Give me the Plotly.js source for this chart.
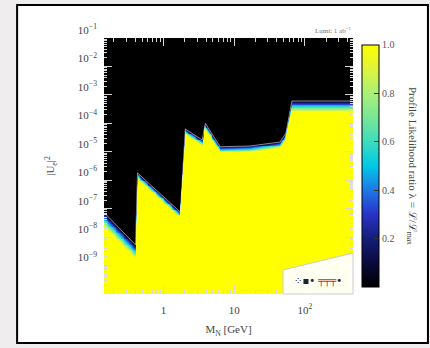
<!DOCTYPE html>
<html><head><meta charset="utf-8">
<script src="https://cdn.plot.ly/plotly-3.0.1.min.js"></script>
<style>html,body{margin:0;padding:0;background:#efeded}</style></head>
<body><div id="chart" style="width:430px;height:348px"></div>
<script>
// Sensitivity boundary (mass in GeV, |U|^2 at which lambda -> 0)
const boundaryMass = [0.1476, 0.4036, 0.4305, 1.734, 2.042, 3.54, 3.91, 6.35, 16.8, 44.5, 54.0, 65.6, 474];
const boundaryU2   = [7.0e-8, 5.3e-9, 1.8e-6, 7.6e-8, 6.3e-5, 2.6e-5, 1.0e-4, 1.5e-5, 1.6e-5, 2.2e-5, 4.6e-5, 6.1e-4, 6.1e-4];
// depth (in decades of |U|^2) of the colour transition below the boundary, per segment
const bandWidth    = [0.50, 0.50, 0.22, 0.22, 0.20, 0.20, 0.22, 0.22, 0.22, 0.22, 0.22, 0.38, 0.38];

const yTickVals = [1e-1,1e-2,1e-3,1e-4,1e-5,1e-6,1e-7,1e-8,1e-9];
const yTickText = ['10<sup>−1</sup>','10<sup>−2</sup>','10<sup>−3</sup>','10<sup>−4</sup>','10<sup>−5</sup>','10<sup>−6</sup>','10<sup>−7</sup>','10<sup>−8</sup>','10<sup>−9</sup>'];
const xTickVals = [1, 10, 100];
const xTickText = ['1', '10', '10<sup>2</sup>'];
const cbTickVals = [0.2, 0.4, 0.6, 0.8, 1.0];
const cbTickText = ['0.2', '0.4', '0.6', '0.8', '1.0'];

// minor tick positions (axis styling)
const xMinor = [], yMinor = [];
[0.1, 1, 10, 100].forEach(d => { for (let m = 2; m <= 9; m++) xMinor.push(m * d); });
for (let e = -10; e < -1; e++) for (let m = 2; m <= 9; m++) yMinor.push(m * Math.pow(10, e));

// build heatmap grid from the boundary table
const lmB = boundaryMass.map(Math.log10), luB = boundaryU2.map(Math.log10);
const NX = 280, NY = 300;
const lxMin = -0.84, lxMax = 2.68, lyMin = -10, lyMax = -1;
const xs = [], ys = [], z = [];
for (let i = 0; i < NX; i++) xs.push(Math.pow(10, lxMin + (lxMax - lxMin) * (i + 0.5) / NX));
for (let j = 0; j < NY; j++) ys.push(Math.pow(10, lyMin + (lyMax - lyMin) * (j + 0.5) / NY));
function bnd(lx) {
  let k = 0;
  while (k < lmB.length - 2 && lx > lmB[k + 1]) k++;
  const t = Math.max(0, Math.min(1, (lx - lmB[k]) / (lmB[k + 1] - lmB[k])));
  return [luB[k] + t * (luB[k + 1] - luB[k]), bandWidth[k]];
}
const cols = xs.map(x => bnd(Math.log10(x)));
for (let j = 0; j < NY; j++) {
  const row = [];
  const ly = Math.log10(ys[j]);
  for (let i = 0; i < NX; i++) {
    const d = cols[i][0] - ly;
    row.push(d <= 0 ? 0 : Math.min(1, Math.pow(d / cols[i][1], 0.9)));
  }
  z.push(row);
}

const cscale = [[0,'#000000'],[0.1,'#0a0a3c'],[0.2,'#141e78'],[0.3,'#2832c8'],[0.4,'#1e78e6'],
  [0.5,'#00c8e6'],[0.6,'#3cdcbe'],[0.7,'#78e696'],[0.8,'#aaf078'],[0.9,'#dcf53c'],[1,'#ffff00']];

const sf = 'Liberation Serif, serif';
const trace = {
  type: 'heatmap', x: xs, y: ys, z: z, zmin: 0, zmax: 1, colorscale: cscale, zsmooth: false,
  hoverinfo: 'skip',
  colorbar: {
    thickness: 17, thicknessmode: 'pixels', len: 0.945, lenmode: 'fraction',
    x: 1.036, xanchor: 'left', y: 0.973, yanchor: 'top',
    outlinecolor: '#000', outlinewidth: 1,
    tickvals: cbTickVals, ticktext: cbTickText, ticks: 'inside', ticklen: 5, tickcolor: '#333',
    tickfont: {family: sf, size: 10, color: '#555'}, xpad: 0, ypad: 0
  }
};
const edge = {
  type: 'scatter', mode: 'lines', x: boundaryMass, y: boundaryU2,
  line: {color: 'rgba(220,220,235,0.6)', width: 1}, hoverinfo: 'skip'
};

const layout = {
  width: 430, height: 348,
  margin: {l: 104, r: 77, t: 38, b: 54},
  paper_bgcolor: '#efeded', plot_bgcolor: '#000',
  font: {family: sf, size: 11, color: '#444'}, showlegend: false,
  xaxis: {
    type: 'log', range: [lxMin, lxMax], tickvals: xTickVals, ticktext: xTickText,
    ticks: 'inside', ticklen: 8, tickcolor: '#d8d8d8', mirror: 'ticks', showgrid: false, zeroline: false,
    showline: false, ticklabelstandoff: 8,
    minor: {tickvals: xMinor, ticks: 'inside', ticklen: 4, tickcolor: '#d8d8d8', showgrid: false},
    title: {text: 'M<sub>N</sub> [GeV]', font: {family: sf, size: 11, color: '#444'}, standoff: 10}
  },
  yaxis: {
    type: 'log', range: [lyMin, lyMax], tickvals: yTickVals, ticktext: yTickText,
    ticks: 'inside', ticklen: 8, tickcolor: '#d8d8d8', mirror: 'ticks', showgrid: false, zeroline: false,
    showline: false, ticklabelshift: -8, ticklabelstandoff: 6,
    minor: {tickvals: yMinor, ticks: 'inside', ticklen: 3, tickcolor: '#d8d8d8', showgrid: false},
    title: {text: '|U<sub>e</sub>|<sup>2</sup>', font: {family: sf, size: 11, color: '#444'}, standoff: 20}
  },
  shapes: [
    {type: 'rect', xref: 'paper', yref: 'paper', x0: -0.349, x1: 1.301, y0: -0.191, y1: 1.129,
     fillcolor: '#ffffff', line: {color: '#000', width: 2}, layer: 'below'},
    {type: 'path', xref: 'paper', yref: 'paper', path: 'M0.719,0 L0.719,0.094 L1,0.16 L1,0 Z',
     fillcolor: 'rgba(255,255,255,0.95)', line: {color: '#cccccc', width: 1}, layer: 'above'}
  ],
  annotations: [
    {xref: 'paper', yref: 'paper', x: 1.0, y: 1.005, xanchor: 'right', yanchor: 'bottom', showarrow: false,
     text: 'Lumi: 1 ab<sup>−1</sup>', font: {family: sf, size: 7, color: '#777'}},
    {xref: 'paper', yref: 'paper', x: 1.237, y: 0.5, xanchor: 'center', yanchor: 'middle', showarrow: false,
     textangle: 90, text: 'Profile Likelihood ratio λ = ℒ/ℒ<sub>max</sub>',
     font: {family: sf, size: 11, color: '#444'}},
    {xref: 'paper', yref: 'paper', x: 0.86, y: 0.05, xanchor: 'center', yanchor: 'middle', showarrow: false,
     text: '<span style="color:#222">⁘▪•</span> <span style="color:#e02020">╤╤╤</span><span style="color:#222">•</span>',
     font: {family: 'DejaVu Sans, sans-serif', size: 10}}
  ]
};

Plotly.newPlot('chart', [trace, edge], layout, {displayModeBar: false, staticPlot: true});
</script></body></html>
